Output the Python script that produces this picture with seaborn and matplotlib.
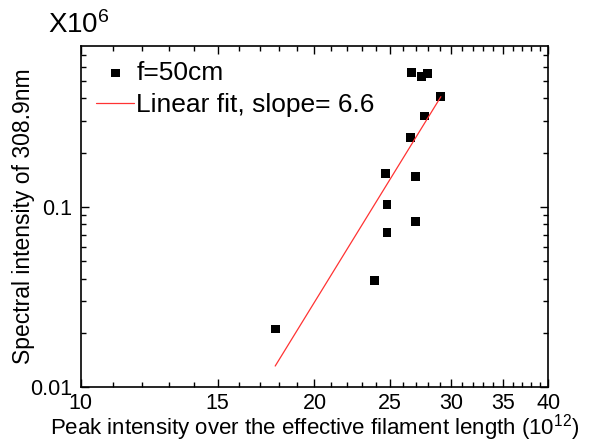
import numpy as np
import pandas as pd
import matplotlib
matplotlib.use('Agg')
import matplotlib.pyplot as plt
import seaborn as sns
from matplotlib.ticker import FixedLocator, NullFormatter, FixedFormatter, LogLocator

# data
peak_intensity = [26.7, 27.5, 28.0, 29.1, 27.7, 26.6, 24.7, 27.0, 24.8, 27.0, 24.8, 23.9, 17.8]
spectral_intensity = [0.555, 0.527, 0.550, 0.409, 0.320, 0.243, 0.154, 0.148, 0.103, 0.083, 0.072, 0.039, 0.021]
fit_x = [17.8, 29.1]
fit_y = [0.0131, 0.409]
x_ticks = [10, 15, 20, 25, 30, 35, 40]

sns.set_style('ticks')
plt.rcParams['font.family'] = ['Liberation Sans', 'DejaVu Sans']
plt.rcParams['mathtext.fontset'] = 'custom'
plt.rcParams['mathtext.rm'] = 'Liberation Sans'
plt.rcParams['mathtext.it'] = 'Liberation Sans:italic'
for key in ['text.color', 'axes.labelcolor', 'xtick.color', 'ytick.color', 'axes.edgecolor']:
    plt.rcParams[key] = 'black'

df_pts = pd.DataFrame({'x': peak_intensity, 'y': spectral_intensity})
df_fit = pd.DataFrame({'x': fit_x, 'y': fit_y})

fig = plt.figure(figsize=(5.9, 4.44), dpi=100)
ax = fig.add_axes([0.137, 0.128, 0.792, 0.768])

sns.scatterplot(data=df_pts, x='x', y='y', marker='s', s=40, color='black',
                edgecolor='none', label='f=50cm', ax=ax)
sns.lineplot(data=df_fit, x='x', y='y', color='#ff3333', linewidth=0.9,
             label='Linear fit, slope= 6.6', ax=ax)

ax.set_xscale('log')
ax.set_yscale('log')
ax.set_xlim(10, 40)
ax.set_ylim(0.01, 0.78)

ax.xaxis.set_major_locator(FixedLocator(x_ticks))
ax.xaxis.set_major_formatter(FixedFormatter([str(t) for t in x_ticks]))
ax.xaxis.set_minor_locator(FixedLocator(list(range(11, 40))))
ax.xaxis.set_minor_formatter(NullFormatter())
ax.yaxis.set_major_locator(FixedLocator([0.01, 0.1, 1]))
ax.yaxis.set_major_formatter(FixedFormatter(['0.01', '0.1', '1']))
ax.yaxis.set_minor_locator(LogLocator(base=10, subs=np.arange(2, 10)))
ax.yaxis.set_minor_formatter(NullFormatter())

ax.tick_params(which='both', direction='in', top=True, right=True, color='black', width=1)
ax.tick_params(which='major', length=6, labelsize=15.5)
ax.tick_params(which='minor', length=3.5)
ax.tick_params(axis='x', which='major', pad=4)
ax.tick_params(axis='y', which='major', pad=6)
for sp in ax.spines.values():
    sp.set_color('black')
    sp.set_linewidth(1.2)

ax.set_xlabel(r'Peak intensity over the effective filament length (10$^{12}$)', fontsize=16, labelpad=-1)
ax.set_ylabel('Spectral intensity of 308.9nm', fontsize=16.5, labelpad=-3)
ax.text(-0.07, 1.02, r'X10$^6$', transform=ax.transAxes, fontsize=20, ha='left', va='bottom')

ax.legend(loc='upper left', bbox_to_anchor=(0.0107, 0.988), frameon=False, fontsize=19,
          handlelength=1.44, handletextpad=0.08, borderaxespad=0, labelspacing=0.3)

fig.savefig('out.png', dpi=100)
